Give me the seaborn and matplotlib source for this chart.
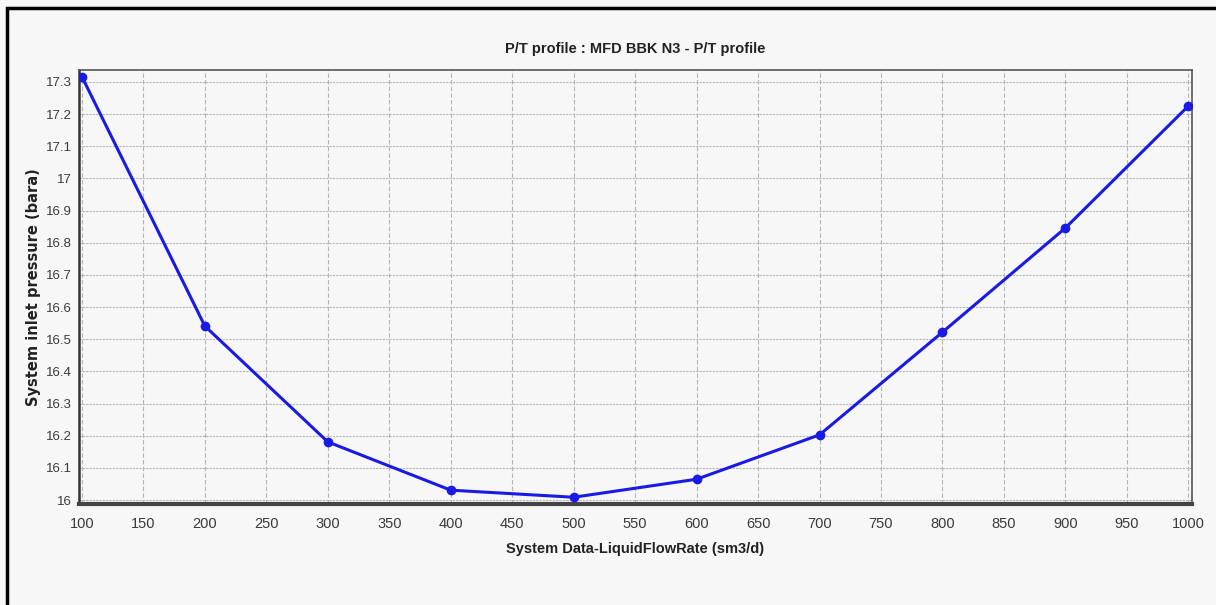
import pandas as pd
import matplotlib.pyplot as plt
import seaborn as sns
from matplotlib.patches import Rectangle

# flow rate vs inlet pressure
flow_rate = [100, 200, 300, 400, 500, 600, 700, 800, 900, 1000]
pressure = [17.316, 16.541, 16.181, 16.031, 16.009, 16.065, 16.203, 16.522, 16.846, 17.225]

x_ticks = [100, 150, 200, 250, 300, 350, 400, 450, 500, 550, 600, 650, 700, 750, 800, 850, 900, 950, 1000]
y_ticks = [16, 16.1, 16.2, 16.3, 16.4, 16.5, 16.6, 16.7, 16.8, 16.9, 17, 17.1, 17.2, 17.3]
y_labels = ['16', '16.1', '16.2', '16.3', '16.4', '16.5', '16.6', '16.7', '16.8', '16.9', '17', '17.1', '17.2', '17.3']

df = pd.DataFrame({'flow': flow_rate, 'pressure': pressure})

sns.set_style('white', {'axes.facecolor': '#f7f7f7', 'figure.facecolor': '#f7f7f7'})
plt.rcParams['font.family'] = ['Liberation Sans', 'DejaVu Sans']

fig = plt.figure(figsize=(12.16, 6.05), dpi=100)
ax = fig.add_axes([79 / 1216, 1 - 504 / 605, (1192 - 79) / 1216, (504 - 70) / 605])

sns.lineplot(data=df, x='flow', y='pressure', ax=ax, color='#1a1ae6', linewidth=2.2,
             marker='o', markersize=7, markeredgewidth=0, zorder=3)

ax.set_xlim(97.6, 1003)
ax.set_ylim(15.988, 17.337)
ax.set_xticks(x_ticks)
ax.set_yticks(y_ticks)
ax.set_yticklabels(y_labels)
ax.tick_params(colors='#3a3a3a', length=3, width=0.6)
ax.tick_params(axis='x', labelsize=10.5, pad=6)
ax.tick_params(axis='y', labelsize=9.5, pad=2)

# grid: vertical dashed, horizontal finer dotted
ax.xaxis.grid(True, linestyle=(0, (4, 2)), color='#b5b5b5', linewidth=0.8)
ax.yaxis.grid(True, linestyle=(0, (2, 1)), color='#b5b5b5', linewidth=0.8)

for side in ['top', 'right']:
    ax.spines[side].set_color('#555555')
    ax.spines[side].set_linewidth(1.2)
ax.spines['left'].set_color('#333333')
ax.spines['left'].set_linewidth(1.8)
ax.spines['bottom'].set_color('#444444')
ax.spines['bottom'].set_linewidth(3)

ax.set_title('P/T profile : MFD BBK N3 - P/T profile', fontsize=10.5, fontweight='bold', pad=12,
             color='#222222')
ax.set_xlabel('System Data-LiquidFlowRate (sm3/d)', fontsize=10.5, fontweight='bold',
              color='#222222')
ax.set_ylabel('System inlet pressure (bara)', fontsize=10.5, fontweight='bold',
              family='DejaVu Sans', color='#222222')
ax.xaxis.set_label_coords(0.5, -0.088)
ax.yaxis.set_label_coords(-0.034, 0.5)

# outer black frame of the screenshot
fig.patches.append(Rectangle((7 / 1216, -0.05), 1.1, 1 - 8 / 605 + 0.05, transform=fig.transFigure,
                             fill=False, edgecolor='black', linewidth=2.5, clip_on=False))

fig.savefig('out.png', dpi=100, facecolor=fig.get_facecolor())
